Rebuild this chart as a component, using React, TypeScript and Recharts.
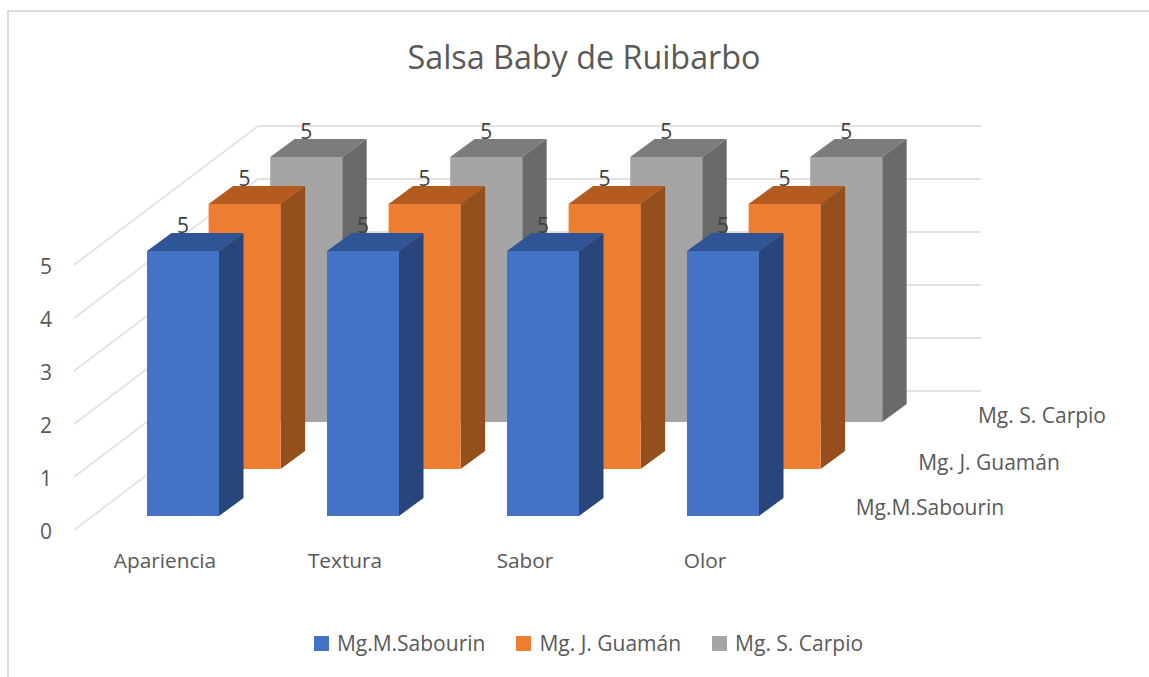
import { Bar, BarChart, CartesianGrid, LabelList, Legend, XAxis, YAxis } from 'recharts'

const CATEGORIES = ['Apariencia', 'Textura', 'Sabor', 'Olor']
const SABOURIN = [5, 5, 5, 5]
const GUAMAN = [5, 5, 5, 5]
const CARPIO = [5, 5, 5, 5]

const SERIES_NAMES = ['Mg.M.Sabourin', 'Mg. J. Guamán', 'Mg. S. Carpio']
const Y_TICKS = [0, 1, 2, 3, 4, 5]

const chartData = CATEGORIES.map((name, i) => ({
  name,
  sabourin: SABOURIN[i],
  guaman: GUAMAN[i],
  carpio: CARPIO[i],
}))

const FONT = '"Open Sans", sans-serif'
const TEXT = '#595959'
const GRID = '#e2e2e2'

// 3d look: each series sits one step further back
const STEP_X = 61.6
const STEP_Y = -47
const SIDE_X = 24.5
const SIDE_Y = -18

const colors = [
  { front: '#4472c4', top: '#2f5597', side: '#29467c' },
  { front: '#ed7d31', top: '#b45b20', side: '#954f1c' },
  { front: '#a5a5a5', top: '#7c7c7c', side: '#6a6a6a' },
]

function box3d(depth: number) {
  return (props: any) => {
    const { x, y, width, height } = props
    const c = colors[depth]
    const l = x + STEP_X * depth
    const t = y + STEP_Y * depth
    const r = l + width
    const b = t + height
    return (
      <g>
        <path d={`M${l},${t} L${l + SIDE_X},${t + SIDE_Y} L${r + SIDE_X},${t + SIDE_Y} L${r},${t} Z`} fill={c.top} />
        <path d={`M${r},${t} L${r + SIDE_X},${t + SIDE_Y} L${r + SIDE_X},${b + SIDE_Y} L${r},${b} Z`} fill={c.side} />
        <rect x={l} y={t} width={width} height={height} fill={c.front} />
      </g>
    )
  }
}

function valueLabel(depth: number) {
  return (props: any) => {
    const { x, y, width, value } = props
    return (
      <text
        x={x + width / 2 + STEP_X * depth}
        y={y + STEP_Y * depth - 26}
        textAnchor="middle"
        dominantBaseline="central"
        fontFamily={FONT}
        fontSize={21}
        fill="#404040"
      >
        {value}
      </text>
    )
  }
}

// floor and wall lines run from the front left corner to the back wall
function wallLine(props: any) {
  const { y1, key } = props
  return (
    <g key={key}>
      <polyline points={`74,${y1 + 14} 258,${y1 - 125} 981,${y1 - 125}`} fill="none" stroke={GRID} strokeWidth={1.8} />
    </g>
  )
}

function YTick(props: any) {
  const { y, payload } = props
  return (
    <text x={46} y={y + 15} textAnchor="middle" dominantBaseline="central" fontFamily={FONT} fontSize={21} fill={TEXT}>
      {payload.value}
    </text>
  )
}

function XTick(props: any) {
  const { x, payload } = props
  return (
    <text x={x - 18} y={560} textAnchor="middle" dominantBaseline="central" fontFamily={FONT} fontSize={20.8} fill={TEXT}>
      {payload.value}
    </text>
  )
}

function LegendRow() {
  return (
    <div style={{ display: 'flex', justifyContent: 'center', alignItems: 'center', gap: 31, fontFamily: FONT, fontSize: 21, color: TEXT }}>
      {SERIES_NAMES.map((name, i) => (
        <span key={name} style={{ display: 'flex', alignItems: 'center', gap: 8 }}>
          <span style={{ width: 15, height: 15, background: colors[i].front }} />
          {name}
        </span>
      ))}
    </div>
  )
}

const DEPTH_LABELS = [
  { x: 930, y: 507 },
  { x: 989, y: 462 },
  { x: 1042, y: 415 },
]

export default function App() {
  return (
    <div style={{ position: 'absolute', left: 0, top: 0, width: 1149, height: 677, background: '#fff', overflow: 'hidden' }}>
      <div style={{ position: 'absolute', left: 7, top: 10, width: 1142, height: 667, borderLeft: '2px solid #dcdcdc', borderTop: '2px solid #dcdcdc' }} />
      <div style={{ position: 'absolute', left: 284, top: 34, width: 600, textAlign: 'center', fontFamily: FONT, fontSize: 32.3, color: TEXT, lineHeight: '44px' }}>
        Salsa Baby de Ruibarbo
      </div>
      <div style={{ position: 'absolute', left: 0, top: 0 }}>
        <BarChart
          width={1149}
          height={677}
          data={chartData}
          margin={{ top: 251, right: 336, bottom: 91, left: 0 }}
          barSize={72}
          barGap={-72}
          barCategoryGap={0}
        >
          <CartesianGrid vertical={false} horizontal={wallLine} />
          <XAxis dataKey="name" height={40} axisLine={false} tickLine={false} tick={XTick} interval={0} />
          <YAxis width={93} domain={[0, 5]} ticks={Y_TICKS} axisLine={false} tickLine={false} tick={YTick} />
          <Bar dataKey="carpio" name={SERIES_NAMES[2]} shape={box3d(2)} isAnimationActive={false}>
            <LabelList dataKey="carpio" content={valueLabel(2)} />
          </Bar>
          <Bar dataKey="guaman" name={SERIES_NAMES[1]} shape={box3d(1)} isAnimationActive={false}>
            <LabelList dataKey="guaman" content={valueLabel(1)} />
          </Bar>
          <Bar dataKey="sabourin" name={SERIES_NAMES[0]} shape={box3d(0)} isAnimationActive={false}>
            <LabelList dataKey="sabourin" content={valueLabel(0)} />
          </Bar>
          <Legend
            height={30}
            content={LegendRow}
            wrapperStyle={{ left: 0, width: 1177, top: 629, bottom: 'auto' }}
          />
          {SERIES_NAMES.map((name, i) => (
            <text
              key={name}
              x={DEPTH_LABELS[i].x}
              y={DEPTH_LABELS[i].y}
              textAnchor="middle"
              dominantBaseline="central"
              fontFamily={FONT}
              fontSize={21}
              fill={TEXT}
            >
              {name}
            </text>
          ))}
        </BarChart>
      </div>
    </div>
  )
}
